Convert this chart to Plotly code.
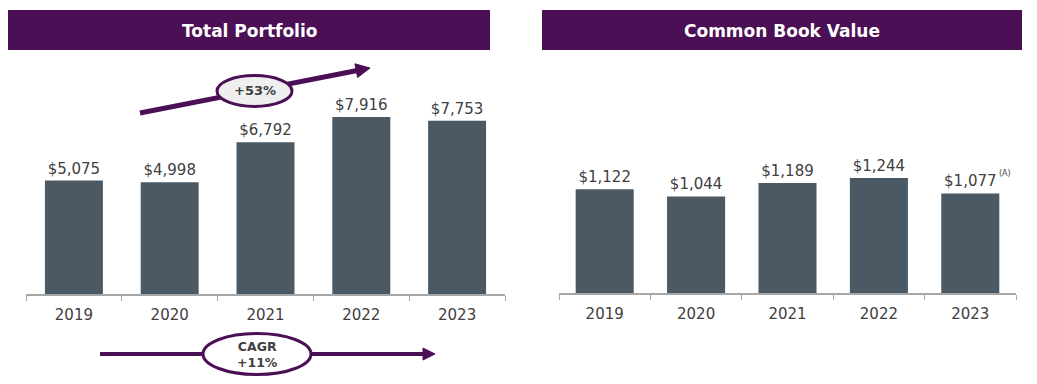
import plotly.graph_objects as go
import math

# Page body has an 8px margin; lay out in reference pixels and shift by it.
OFF = 8
W, H = 1037 - OFF, 384 - OFF

years = ["2019", "2020", "2021", "2022", "2023"]
portfolio = [5075, 4998, 6792, 7916, 7753]
book_value = [1122, 1044, 1189, 1244, 1077]
portfolio_labels = ["$5,075", "$4,998", "$6,792", "$7,916", "$7,753"]
book_labels = ["$1,122", "$1,044", "$1,189", "$1,244", "$1,077"]

PURPLE = "#4B0F55"
BAR = "#4A5964"
TXT = "#404040"
AXIS = "#A6A6A6"
FONT = "DejaVu Sans"


def px(x, y):
    return (x - OFF) / W, 1 - (y - OFF) / H


def dom_x(a, b):
    return [px(a, 0)[0], px(b, 0)[0]]


def dom_y(bottom, top):
    return [px(0, bottom)[1], px(0, top)[1]]


fig = go.Figure()
fig.add_trace(go.Bar(x=years, y=portfolio, text=portfolio_labels, textposition="outside",
                     marker=dict(color=BAR, line=dict(width=0)), cliponaxis=False,
                     width=0.605,
                     textfont=dict(family=FONT, size=15, color=TXT),
                     xaxis="x", yaxis="y", showlegend=False, hoverinfo="skip"))
fig.add_trace(go.Bar(x=years, y=book_value, text=book_labels, textposition="outside",
                     marker=dict(color=BAR, line=dict(width=0)), cliponaxis=False,
                     width=0.635,
                     textfont=dict(family=FONT, size=15, color=TXT),
                     xaxis="x2", yaxis="y2", showlegend=False, hoverinfo="skip"))


def xax(domain, anchor):
    return dict(type="category", categoryorder="array", categoryarray=years,
                range=[-0.5, 4.5], domain=domain, anchor=anchor,
                showline=True, linecolor=AXIS, linewidth=1.5,
                ticks="outside", tickson="boundaries", tickcolor=AXIS, ticklen=5,
                tickangle=0, automargin=False, ticklabelstandoff=6,
                tickfont=dict(family=FONT, size=15, color=TXT), showgrid=False,
                zeroline=False, fixedrange=True)


def yax(domain, anchor, rmax):
    return dict(visible=False, showgrid=False, zeroline=False, fixedrange=True,
                domain=domain, anchor=anchor, range=[0, rmax], automargin=False)


fig.update_layout(
    width=W, height=H, margin=dict(l=0, r=0, t=0, b=0, autoexpand=False),
    paper_bgcolor="white", plot_bgcolor="white",
    xaxis=xax(dom_x(26, 505), "y"),
    yaxis=yax(dom_y(294, 60), "x", 234 * 7916 / 177),
    xaxis2=xax(dom_x(559, 1016), "y2"),
    yaxis2=yax(dom_y(293, 60), "x2", 233 * 1244 / 115),
)

shapes = []
annotations = []

# Header bars
for (x0, x1, title) in [(8, 490, "Total Portfolio"), (542, 1022, "Common Book Value")]:
    a0, b0 = px(x0, 50)
    a1, b1 = px(x1, 10)
    shapes.append(dict(type="rect", xref="paper", yref="paper", x0=a0, x1=a1, y0=b0, y1=b1,
                       fillcolor=PURPLE, line=dict(width=0), layer="above"))
    cx, cy = px((x0 + x1) / 2, 30.5)
    annotations.append(dict(xref="paper", yref="paper", x=cx, y=cy, text="<b>" + title + "</b>",
                            showarrow=False, font=dict(family=FONT, size=17, color="white"),
                            xanchor="center", yanchor="middle"))


def arrow(x0, y0, x1, y1, lw, hl, hw):
    dx, dy = x1 - x0, y1 - y0
    L = math.hypot(dx, dy)
    ux, uy = dx / L, dy / L
    nx, ny = -uy, ux
    bx, by = x1 - hl * ux, y1 - hl * uy
    a, b = px(x0, y0)
    c, d = px(bx + ux * 1, by + uy * 1)
    shapes.append(dict(type="line", xref="paper", yref="paper", x0=a, y0=b, x1=c, y1=d,
                       line=dict(color=PURPLE, width=lw), layer="above"))
    p1 = px(x1, y1)
    p2 = px(bx + hw * nx, by + hw * ny)
    p3 = px(bx - hw * nx, by - hw * ny)
    path = "M {} {} L {} {} L {} {} Z".format(p1[0], p1[1], p2[0], p2[1], p3[0], p3[1])
    shapes.append(dict(type="path", xref="paper", yref="paper", path=path,
                       fillcolor=PURPLE, line=dict(color=PURPLE, width=1), layer="above"))


def ellipse(cx, cy, rx, ry, fill, text, size):
    a0, b0 = px(cx - rx, cy + ry)
    a1, b1 = px(cx + rx, cy - ry)
    shapes.append(dict(type="circle", xref="paper", yref="paper", x0=a0, x1=a1, y0=b0, y1=b1,
                       fillcolor=fill, line=dict(color=PURPLE, width=3), layer="above"))
    tx, ty = px(cx, cy)
    annotations.append(dict(xref="paper", yref="paper", x=tx, y=ty, text=text, showarrow=False,
                            font=dict(family=FONT, size=size, color=TXT), xanchor="center",
                            yanchor="middle"))


arrow(140, 113, 370, 68, 5, 14, 7)
ellipse(254.5, 91, 37.5, 15.5, "#EFEFEF", "<b>+53%</b>", 13)

arrow(100, 354, 435, 354, 4, 12, 6)
ellipse(257, 354, 54, 20.5, "white", "<b>CAGR<br>+11%</b>", 12.5)

# footnote marker
annotations.append(dict(xref="x2", yref="y2", x=4, y=1077, text="(A)", showarrow=False,
                        font=dict(family=FONT, size=8, color=TXT), xshift=35, yshift=20,
                        xanchor="center", yanchor="middle"))

fig.update_layout(shapes=shapes, annotations=annotations)
fig.write_html("out.html")
